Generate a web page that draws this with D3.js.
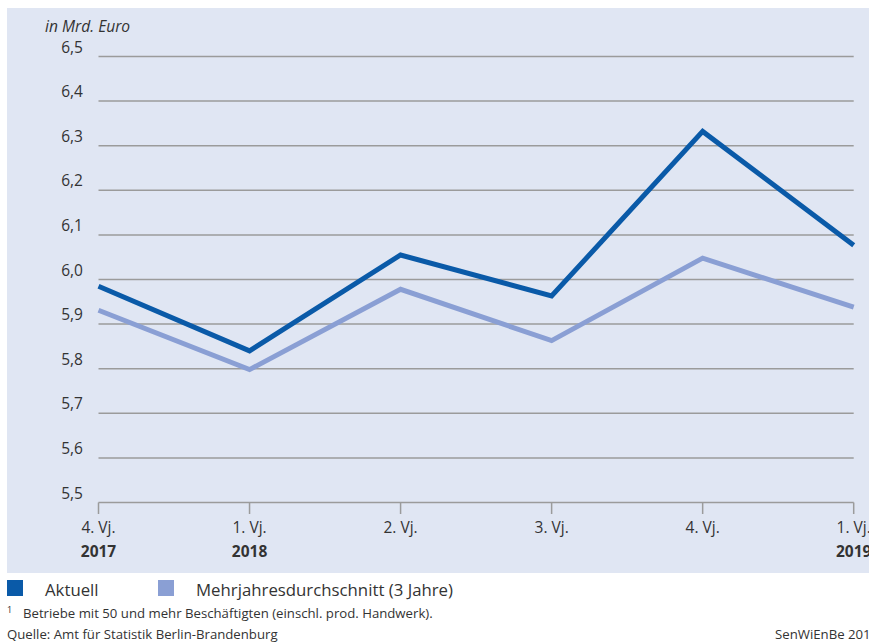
<!DOCTYPE html>
<html><head><meta charset="utf-8">
<script src="https://cdn.jsdelivr.net/npm/d3@7"></script>
<style>
html,body{margin:0;padding:0;background:#fff;}
svg{display:block;font-family:"Open Sans",sans-serif;}
</style></head>
<body>
<svg id="chart" width="869" height="644"></svg>
<script>
const quarters = ["4. Vj.", "1. Vj.", "2. Vj.", "3. Vj.", "4. Vj.", "1. Vj."];
const years = ["2017", "2018", "", "", "", "2019"];
const aktuell = [5.985, 5.84, 6.055, 5.963, 6.332, 6.077];
const mehrjahr = [5.931, 5.798, 5.978, 5.863, 6.048, 5.938];
const yTicks = [5.5, 5.6, 5.7, 5.8, 5.9, 6.0, 6.1, 6.2, 6.3, 6.4, 6.5];
const seriesNames = ["Aktuell", "Mehrjahresdurchschnitt (3 Jahre)"];
const colors = ["#0a5aa8", "#8a9fd4"];

const svg = d3.select("#chart");
const textCol = "#333";
const gridCol = "#9b9b9b";

svg.append("rect").attr("x", 7).attr("y", 8).attr("width", 870).attr("height", 565).attr("fill", "#e0e6f3");

const idx = d3.range(quarters.length);
const x = d3.scalePoint().domain(idx).range([98.5, 853.7]);
const y = d3.scaleLinear().domain([5.5, 6.5]).range([502.5, 56.5]);

// grid lines
svg.append("g").selectAll("line").data(yTicks).join("line")
  .attr("x1", x(0)).attr("x2", x(idx.length - 1))
  .attr("y1", d => y(d)).attr("y2", d => y(d))
  .attr("stroke", gridCol).attr("stroke-width", 1.5);

// y labels
const fmt = d => d3.format(".1f")(d).replace(".", ",");
svg.append("g").selectAll("text").data(yTicks).join("text")
  .attr("x", 83).attr("y", d => y(d) - 4)
  .attr("text-anchor", "end").attr("font-size", 15.5).attr("fill", textCol)
  .text(fmt);

svg.append("text").attr("x", 45).attr("y", 32).attr("font-size", 15.6)
  .attr("font-style", "italic").attr("fill", textCol).text("in Mrd. Euro");

// x ticks
svg.append("g").selectAll("line").data(idx).join("line")
  .attr("x1", d => x(d)).attr("x2", d => x(d))
  .attr("y1", y(5.5)).attr("y2", 514)
  .attr("stroke", gridCol).attr("stroke-width", 1.5);

svg.append("g").selectAll("text").data(idx).join("text")
  .attr("x", d => x(d)).attr("y", 533).attr("text-anchor", "middle")
  .attr("font-size", 15.5).attr("fill", textCol).text(d => quarters[d]);
svg.append("g").selectAll("text").data(idx).join("text")
  .attr("x", d => x(d)).attr("y", 557).attr("text-anchor", "middle")
  .attr("font-size", 15.5).attr("font-weight", "bold").attr("fill", textCol).text(d => years[d]);

// lines
const line = d3.line().x((d, i) => x(i)).y(d => y(d));
[mehrjahr, aktuell].forEach((s, k) => {
  svg.append("path").datum(s).attr("d", line).attr("fill", "none")
    .attr("stroke", k === 0 ? colors[1] : colors[0]).attr("stroke-width", 5)
    .attr("stroke-linejoin", "miter");
});

// legend
const legX = [7, 158];
seriesNames.forEach((n, i) => {
  svg.append("rect").attr("x", legX[i]).attr("y", 580).attr("width", 16).attr("height", 16).attr("fill", colors[i]);
  svg.append("text").attr("x", legX[i] + 38).attr("y", 596).attr("font-size", 16.8).attr("fill", textCol).text(n);
});

svg.append("text").attr("x", 7).attr("y", 613).attr("font-size", 9).attr("fill", textCol).text("1");
svg.append("text").attr("x", 23).attr("y", 618).attr("font-size", 13.2).attr("fill", textCol)
  .text("Betriebe mit 50 und mehr Beschäftigten (einschl. prod. Handwerk).");
svg.append("text").attr("x", 7).attr("y", 639).attr("font-size", 13.2).attr("fill", textCol)
  .text("Quelle: Amt für Statistik Berlin-Brandenburg");
svg.append("text").attr("x", 775).attr("y", 639).attr("font-size", 13.2).attr("fill", textCol)
  .text("SenWiEnBe 2019");
</script>
</body></html>
